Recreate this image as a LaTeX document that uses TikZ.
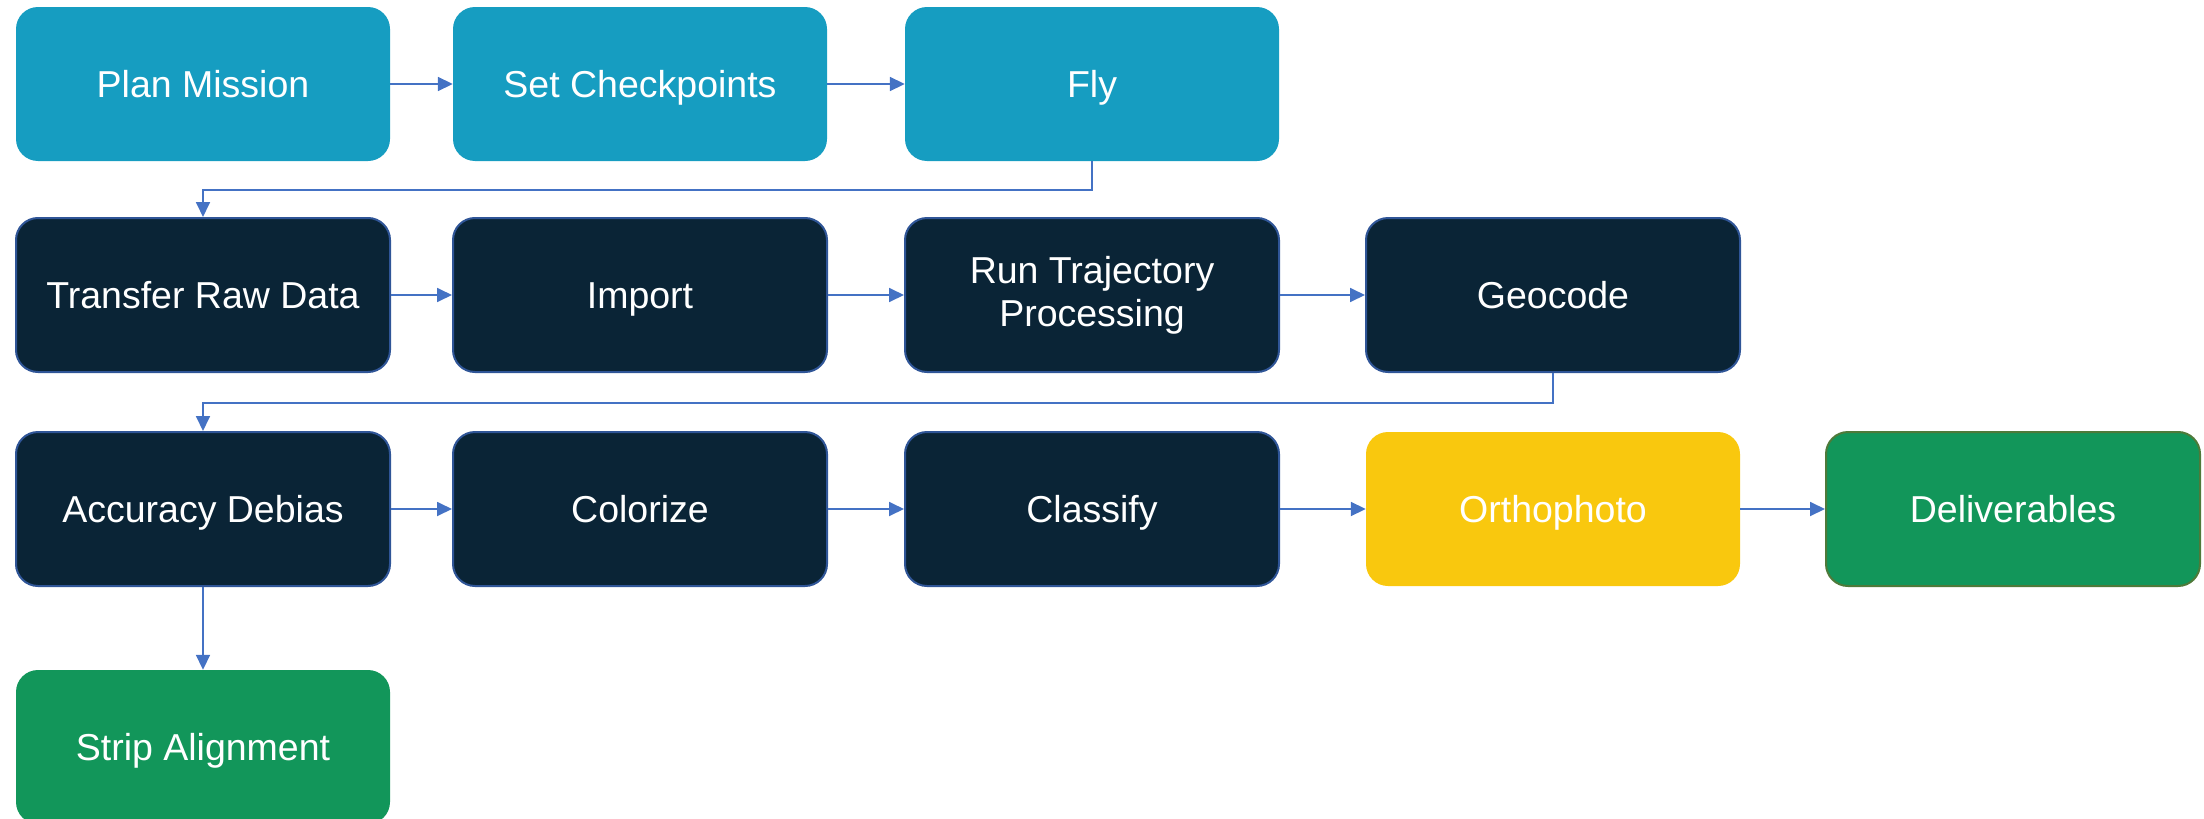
\documentclass[tikz,border=0pt]{standalone}
\usepackage{fontspec}
\setmainfont{Liberation Sans}
\usetikzlibrary{arrows.meta}
\definecolor{tealbox}{HTML}{169DC1}
\definecolor{navybox}{HTML}{0A2436}
\definecolor{navyedge}{HTML}{2F5597}
\definecolor{yellowbox}{HTML}{F9C80E}
\definecolor{greenbox}{HTML}{12965A}
\definecolor{greenedge}{HTML}{4E7A3A}
\definecolor{arrowblue}{HTML}{4472C4}
\tikzset{
  box/.style={rounded corners=22pt, minimum width=374pt, minimum height=154pt,
    inner sep=0pt, text=white, align=center,
    font=\fontsize{37.5}{43}\selectfont},
  oneline/.style={text height=27pt, text depth=0pt},
  tealstep/.style={box, oneline, fill=tealbox},
  navystep/.style={box, fill=navybox, draw=navyedge, line width=2pt},
  yellowstep/.style={box, oneline, fill=yellowbox},
  greenstep/.style={box, oneline, fill=greenbox},
  greenedged/.style={box, oneline, fill=greenbox, draw=greenedge, line width=2pt},
  conn/.style={draw=arrowblue, line width=1.8pt,
    -{Triangle[length=15pt,width=14pt]}}
}
\begin{document}
\begin{tikzpicture}[x=1pt,y=-1pt]
\useasboundingbox (0,0) rectangle (2204,819);
% row 1
\node[tealstep] (plan) at (203,84) {Plan Mission};
\node[tealstep] (set) at (640,84) {Set Checkpoints};
\node[tealstep] (fly) at (1092,84) {Fly};
% row 2
\node[navystep, oneline] (transfer) at (203,295) {Transfer Raw Data};
\node[navystep, oneline] (import) at (640,295) {Import};
\node[navystep] (traj) at (1092,295) {Run Trajectory\\Processing};
\node[navystep, oneline] (geo) at (1553,295) {Geocode};
% row 3
\node[navystep, oneline] (acc) at (203,509) {Accuracy Debias};
\node[navystep, oneline] (col) at (640,509) {Colorize};
\node[navystep, oneline] (cls) at (1092,509) {Classify};
\node[yellowstep] (ortho) at (1553,509) {Orthophoto};
\node[greenedged] (deliv) at (2013,509) {Deliverables};
% row 4
\node[greenstep] (strip) at (203,747) {Strip Alignment};
% connectors
\draw[conn] (plan.east) -- (set.west);
\draw[conn] (set.east) -- (fly.west);
\draw[conn] (fly.south) -- ++(0,29) -| (transfer.north);
\draw[conn] (transfer.east) -- (import.west);
\draw[conn] (import.east) -- (traj.west);
\draw[conn] (traj.east) -- (geo.west);
\draw[conn] (geo.south) -- ++(0,30) -| (acc.north);
\draw[conn] (acc.east) -- (col.west);
\draw[conn] (col.east) -- (cls.west);
\draw[conn] (cls.east) -- (ortho.west);
\draw[conn] (ortho.east) -- (deliv.west);
\draw[conn] (acc.south) -- (strip.north);
\end{tikzpicture}
\end{document}
